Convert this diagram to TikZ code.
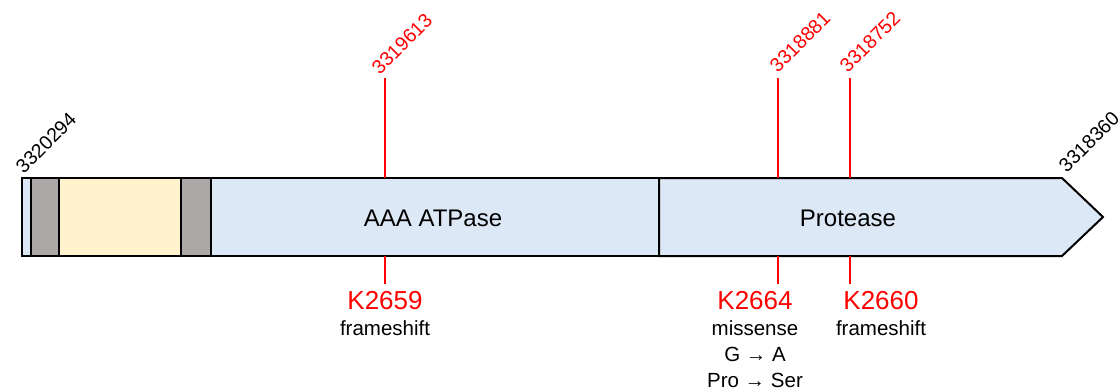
\documentclass[tikz,border=0pt]{standalone}
\usepackage{fontspec}
\setmainfont{Liberation Sans}
\usepackage{tikz}

\definecolor{domblue}{RGB}{220,232,246}
\definecolor{tmgray}{RGB}{172,168,168}
\definecolor{sigyellow}{RGB}{255,242,204}
\definecolor{mutred}{RGB}{255,0,0}

\tikzset{
  seg/.style={draw=black,line width=2pt,line join=miter},
  coordlabel/.style={rotate=45,anchor=south west,inner sep=0pt,font=\fontsize{19.5}{20}\selectfont},
  siteline/.style={mutred,line width=2pt},
  mutname/.style={text=mutred,inner sep=0pt,anchor=base,font=\fontsize{26}{28}\selectfont},
  mutnote/.style={inner sep=0pt,anchor=base,font=\fontsize{20.5}{26}\selectfont},
}

\begin{document}
\begin{tikzpicture}[x=1pt,y=-1pt]
\useasboundingbox (0,0) rectangle (1120,391);

% gene body, left to right
\draw[seg,fill=domblue] (22,178) rectangle (31,256);
\draw[seg,fill=tmgray] (31,178) rectangle (59,256);
\draw[seg,fill=sigyellow] (59,178) rectangle (181,256);
\draw[seg,fill=tmgray] (181,178) rectangle (211,256);
\draw[seg,fill=domblue] (211,178) rectangle (659,256);
\draw[seg,fill=domblue] (659,178) -- (1062,178) -- (1103,217) -- (1062,256) -- (659,256) -- cycle;

\node[font=\fontsize{24}{24}\selectfont] (aaa) at (433,218) {AAA ATPase};
\node[font=\fontsize{24}{24}\selectfont] (prot) at (848,218) {Protease};

% start and end of the gene
\node[coordlabel] (gstart) at (24,175) {3320294};
\node[coordlabel] (gend) at (1067,174) {3318360};

% mutation sites
\coordinate (t1) at (385,78);  \coordinate (b1) at (385,178);
\coordinate (t2) at (778,78);  \coordinate (b2) at (778,178);
\coordinate (t3) at (850,78);  \coordinate (b3) at (850,178);
\coordinate (u1) at (385,256); \coordinate (l1) at (385,284);
\coordinate (u2) at (778,256); \coordinate (l2) at (778,284);
\coordinate (u3) at (850,256); \coordinate (l3) at (850,284);

\draw[siteline] (t1) -- (b1);
\draw[siteline] (t2) -- (b2);
\draw[siteline] (t3) -- (b3);
\draw[siteline] (u1) -- (l1);
\draw[siteline] (u2) -- (l2);
\draw[siteline] (u3) -- (l3);

\node[coordlabel,text=mutred] (p1) at (380,76) {3319613};
\node[coordlabel,text=mutred] (p2) at (778,74) {3318881};
\node[coordlabel,text=mutred] (p3) at (848,74) {3318752};

% the two protease labels sit apart from their lines
\node[mutname] (k1) at (385,309) {K2659};
\node[mutname] (k2) at (755,309) {K2664};
\node[mutname] (k3) at (881,309) {K2660};

\node[mutnote] (n1) at (385,335) {frameshift};
\node[mutnote] (n2) at (755,335) {missense};
\node[mutnote] (n2a) at (755,361) {G → A};
\node[mutnote] (n2b) at (755,387) {Pro → Ser};
\node[mutnote] (n3) at (881,335) {frameshift};
\end{tikzpicture}
\end{document}
